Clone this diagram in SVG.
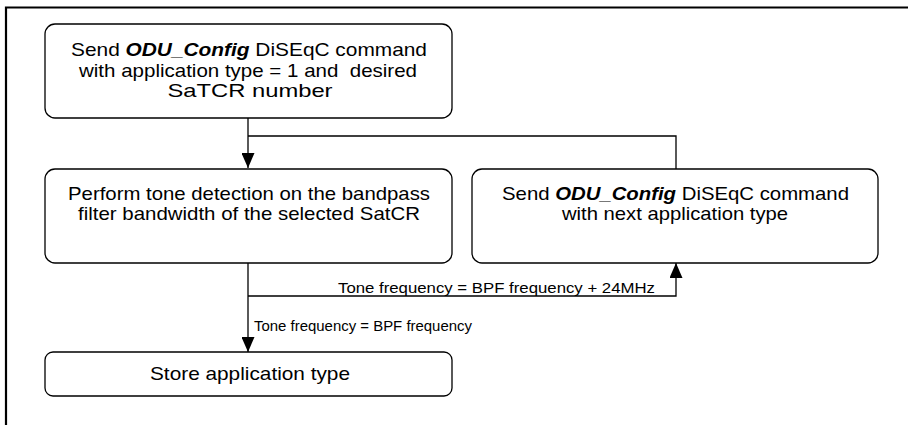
<svg xmlns="http://www.w3.org/2000/svg" width="908" height="425" viewBox="0 0 908 425">
<style>
.box{fill:#fff;stroke:#000;stroke-width:1.3}
.t{font-family:"Liberation Sans",Arial,sans-serif;font-size:18.5px;fill:#000;text-anchor:middle}
.lbl{font-family:"Liberation Sans",Arial,sans-serif;font-size:14px;fill:#000}
.b{font-weight:bold;font-style:italic}
.c{fill:none;stroke:#000;stroke-width:1.3}
</style>
<defs>
<marker id="ah" viewBox="0 0 15 13" refX="15" refY="6.5" markerWidth="15" markerHeight="13" markerUnits="userSpaceOnUse" orient="auto">
<path d="M0,0 L15,6.5 L0,13 Z" fill="#000"/>
</marker>
</defs>
<rect width="908" height="425" fill="#fff"/>
<path d="M6,425 V7.5 H908" fill="none" stroke="#000" stroke-width="2.2"/>
<g id="connectors">
<path class="c" d="M248,118 V168" marker-end="url(#ah)"/>
<path class="c" d="M248,136 H676 V169"/>
<path class="c" d="M248,263 V352" marker-end="url(#ah)"/>
<path class="c" d="M248,296 H676 V263" marker-end="url(#ah)"/>
<text class="lbl" x="338" y="293" textLength="317" lengthAdjust="spacingAndGlyphs">Tone frequency = BPF frequency + 24MHz</text>
<text class="lbl" x="254" y="331" textLength="218" lengthAdjust="spacingAndGlyphs">Tone frequency = BPF frequency</text>
</g>
<g id="n1">
<rect class="box" x="45" y="24" width="407" height="94" rx="10"/>
<text class="t" x="249" y="56" textLength="356" lengthAdjust="spacingAndGlyphs">Send <tspan class="b">ODU_Config</tspan> DiSEqC command</text>
<text class="t" x="248" y="76.5" textLength="338" lengthAdjust="spacingAndGlyphs" xml:space="preserve">with application type = 1 and  desired</text>
<text class="t" x="250" y="97" textLength="165" lengthAdjust="spacingAndGlyphs">SaTCR number</text>
</g>
<g id="n2">
<rect class="box" x="45" y="169" width="407" height="94" rx="10"/>
<text class="t" x="249" y="200" textLength="362" lengthAdjust="spacingAndGlyphs">Perform tone detection on the bandpass</text>
<text class="t" x="249" y="220" textLength="342" lengthAdjust="spacingAndGlyphs">filter bandwidth of the selected SatCR</text>
</g>
<g id="n3">
<rect class="box" x="472" y="169" width="406" height="94" rx="10"/>
<text class="t" x="675.5" y="200" textLength="347" lengthAdjust="spacingAndGlyphs">Send <tspan class="b">ODU_Config</tspan> DiSEqC command</text>
<text class="t" x="675" y="220" textLength="226" lengthAdjust="spacingAndGlyphs">with next application type</text>
</g>
<g id="n4">
<rect class="box" x="45" y="352" width="407" height="44" rx="8"/>
<text class="t" x="250" y="380" textLength="200" lengthAdjust="spacingAndGlyphs">Store application type</text>
</g>
</svg>
